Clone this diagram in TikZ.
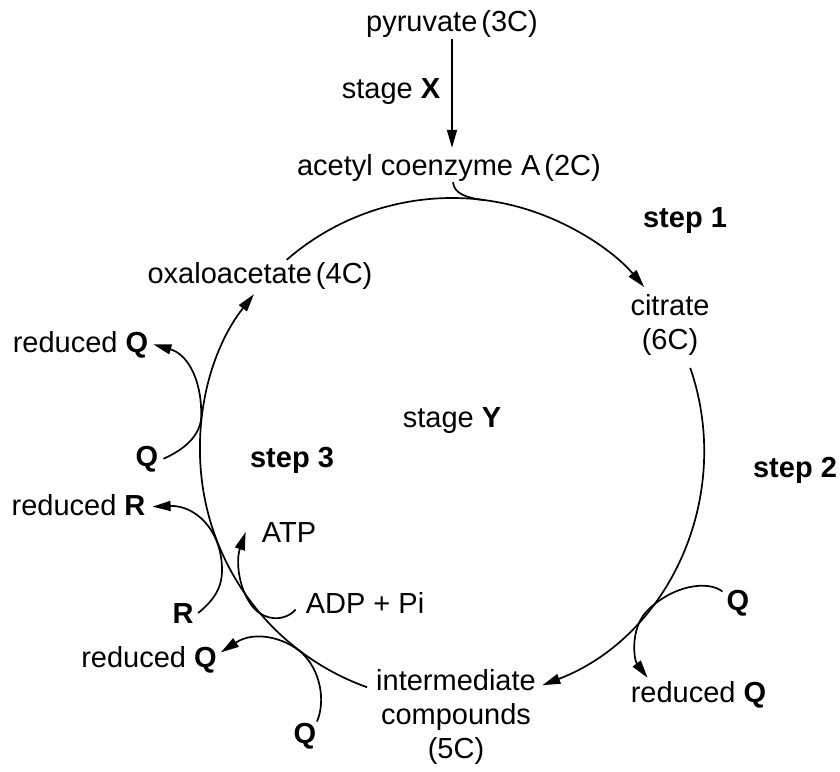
\documentclass[tikz,border=0pt]{standalone}
\usepackage{fontspec}
\setmainfont{Liberation Sans}
\usetikzlibrary{arrows.meta}
\begin{document}
\begin{tikzpicture}[x=1pt,y=1pt,
  txt/.style={inner sep=0pt, anchor=base, font=\fontsize{29}{34}\selectfont},
  conn/.style={line width=1.7pt},
  arr/.style={conn, -{Triangle[length=18pt,width=10pt]}}]
\useasboundingbox (0,0) rectangle (840,-771);
% text nodes
\node[txt] (pyr) at (452,-31) {pyruvate\hspace{4pt}(3C)};
\node[txt] (stx) at (391,-98) {stage \textbf{X}};
\node[txt] (acet) at (449,-175) {acetyl coenzyme A\hspace{4pt}(2C)};
\node[txt] (st1) at (685,-227) {\textbf{step 1}};
\node[txt] (cit) at (670,-315) {\begin{tabular}[t]{@{}c@{}}citrate\\(6C)\end{tabular}};
\node[txt] (oxa) at (260,-283) {oxaloacetate\hspace{4pt}(4C)};
\node[txt] (sty) at (452,-427) {stage \textbf{Y}};
\node[txt] (st3) at (292,-467) {\textbf{step 3}};
\node[txt] (st2) at (795,-477) {\textbf{step 2}};
\node[txt] (qa) at (147,-466) {\textbf{Q}};
\node[txt] (rqa) at (80.5,-352) {reduced \textbf{Q}};
\node[txt] (rr) at (78.5,-515) {reduced \textbf{R}};
\node[txt] (atp) at (289,-542) {ATP};
\node[txt] (adp) at (365,-613) {ADP + Pi};
\node[txt] (r) at (183,-623) {\textbf{R}};
\node[txt] (rqb) at (149,-667) {reduced \textbf{Q}};
\node[txt] (qb) at (305,-743) {\textbf{Q}};
\node[txt] (qc) at (738,-610) {\textbf{Q}};
\node[txt] (rqc) at (698.5,-702) {reduced \textbf{Q}};
\node[txt] (int) at (456,-690) {\begin{tabular}[t]{@{}c@{}}intermediate\\compounds\\(5C)\end{tabular}};
% circle geometry
\coordinate (c) at (452,-450);
\coordinate (topA) at ([shift={(131:252)}]c);
\coordinate (rightA) at ([shift={(19:252)}]c);
\coordinate (leftA) at ([shift={(250.3:252)}]c);
\coordinate (join) at ([shift={(82.5:252)}]c);
% stage X
\draw[arr, shorten <=2pt, shorten >=6pt] (pyr.south) -- (pyr.south |- acet.north);
% cycle arcs
\draw[arr] (topA) arc[start angle=131, end angle=40.3, radius=252pt];
\draw[arr] (rightA) arc[start angle=19, end angle=-69, radius=252pt];
\draw[arr] (leftA) arc[start angle=250.3, end angle=141.8, radius=252pt];
% acetyl CoA joins cycle
\draw[conn] ([xshift=4pt,yshift=-1pt]acet.south) .. controls +(1,-12) and +(-17,2) .. (join);
% side reactions
\draw[arr] ([xshift=5pt]qa.east) .. controls (183,-450) and (198,-438) .. (201,-420)
  .. controls (203,-385) and (190,-355) .. ([xshift=5pt]rqa.east);
\draw[arr] ([xshift=4.5pt]r.east) .. controls (214,-600) and (222,-588) .. (222,-570)
  .. controls (222,-530) and (195,-505) .. ([xshift=7pt,yshift=-2pt]rr.east);
\draw[arr] ([xshift=-10pt,yshift=-7pt]adp.west) .. controls (285,-622) and (262,-622) .. (250,-603)
  .. controls (238,-585) and (236,-560) .. ([xshift=-16pt]atp.west);
\draw[arr] ([xshift=12pt,yshift=1pt]qb.north) .. controls (326,-700) and (320,-670) .. (302,-653)
  .. controls (285,-638) and (255,-630) .. ([xshift=4pt,yshift=7pt]rqb.east);
\draw[arr] ([xshift=-4pt,yshift=-2pt]qc.north west) .. controls (708,-580) and (672,-585) .. (646,-612)
  .. controls (630,-630) and (634,-660) .. ([xshift=17pt,yshift=3pt]rqc.north west);
\end{tikzpicture}
\end{document}
